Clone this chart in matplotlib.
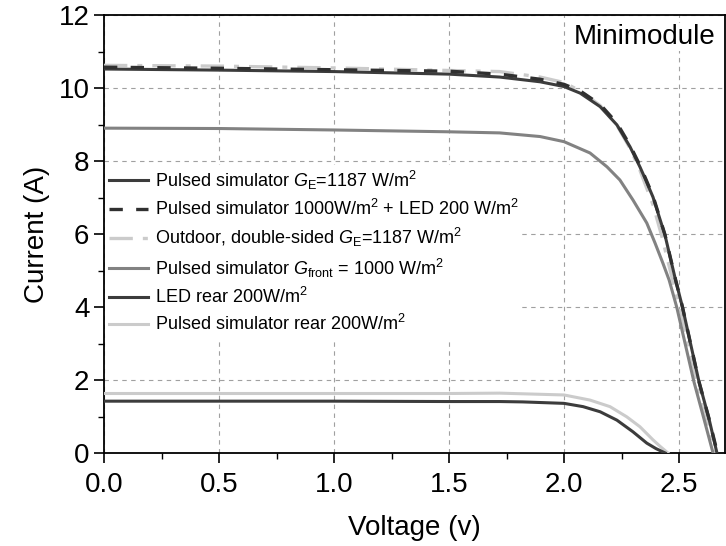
import numpy as np
import matplotlib
matplotlib.use("Agg")
import matplotlib.pyplot as plt
from matplotlib.ticker import MultipleLocator, FormatStrFormatter

plt.rcParams["font.family"] = ["Liberation Sans", "DejaVu Sans"]
plt.rcParams["mathtext.fontset"] = "custom"
plt.rcParams["mathtext.rm"] = "Liberation Sans"
plt.rcParams["mathtext.it"] = "Liberation Sans:italic"

# ---- data (V in volts, I in amps) ----
v_ge = [0, 0.5, 1.0, 1.5, 1.72, 1.896, 2.0, 2.07, 2.157, 2.23, 2.287, 2.33, 2.352, 2.387, 2.439, 2.485, 2.515, 2.587, 2.63, 2.665]
i_ge = [10.52, 10.49, 10.45, 10.38, 10.30, 10.17, 10.04, 9.86, 9.49, 8.99, 8.39, 7.84, 7.53, 7.01, 5.97, 4.74, 4.00, 1.95, 0.95, 0.0]

v_led = [0, 0.5, 1.0, 1.5, 1.72, 1.896, 2.0, 2.07, 2.157, 2.23, 2.287, 2.33, 2.352, 2.387, 2.439, 2.485, 2.515, 2.587, 2.63, 2.667]
i_led = [10.57, 10.54, 10.50, 10.46, 10.38, 10.24, 10.10, 9.92, 9.55, 9.04, 8.43, 7.88, 7.56, 7.04, 5.98, 4.75, 4.00, 1.95, 0.95, 0.0]

v_out = [0, 0.5, 1.0, 1.5, 1.72, 1.896, 2.0, 2.07, 2.157, 2.23, 2.287, 2.33, 2.387, 2.424, 2.472, 2.505, 2.58, 2.625, 2.658]
i_out = [10.62, 10.60, 10.55, 10.48, 10.45, 10.30, 10.15, 9.92, 9.52, 8.98, 8.35, 7.75, 6.80, 5.97, 4.74, 3.95, 1.90, 0.80, 0.0]

v_front = [0, 0.5, 1.0, 1.5, 1.72, 1.896, 2.0, 2.113, 2.187, 2.243, 2.30, 2.36, 2.396, 2.43, 2.457, 2.49, 2.565, 2.61, 2.648]
i_front = [8.90, 8.89, 8.85, 8.80, 8.77, 8.67, 8.53, 8.22, 7.84, 7.48, 6.93, 6.30, 5.75, 5.20, 4.74, 4.00, 1.95, 0.90, 0.0]

v_ledrear = [0, 0.5, 1.0, 1.5, 1.72, 1.82, 2.0, 2.083, 2.157, 2.23, 2.30, 2.36, 2.40, 2.44]
i_ledrear = [1.42, 1.42, 1.42, 1.41, 1.41, 1.40, 1.36, 1.27, 1.13, 0.90, 0.58, 0.27, 0.12, 0.0]

v_rear = [0, 0.5, 1.0, 1.5, 1.72, 2.0, 2.113, 2.2, 2.273, 2.33, 2.387, 2.42, 2.452]
i_rear = [1.63, 1.63, 1.63, 1.63, 1.64, 1.59, 1.45, 1.27, 0.99, 0.72, 0.36, 0.17, 0.0]

DARK = "#3c3c3c"
MID = "#828282"
LIGHT = "#cbcbcb"

fig = plt.figure(figsize=(7.26, 5.46), dpi=100)
ax = fig.add_axes([104 / 726, 93 / 546, 621 / 726, 438 / 546])

ax.plot(v_out, i_out, color=LIGHT, lw=2.4, dashes=(7, 3, 1.5, 3),
        label=r"Outdoor, double-sided $G_\mathrm{E}$=1187 W/m$^2$", zorder=3)
ax.plot(v_ge, i_ge, color=DARK, lw=2.2,
        label=r"Pulsed simulator $G_\mathrm{E}$=1187 W/m$^2$", zorder=4)
ax.plot(v_led, i_led, color="#303030", lw=2.4, dashes=(4, 4),
        label=r"Pulsed simulator 1000W/m$^2$ + LED 200 W/m$^2$", zorder=5)
ax.plot(v_front, i_front, color=MID, lw=2.2,
        label=r"Pulsed simulator $G_\mathrm{front}$ = 1000 W/m$^2$", zorder=4)
ax.plot(v_ledrear, i_ledrear, color=DARK, lw=2.2,
        label=r"LED rear 200W/m$^2$", zorder=4)
ax.plot(v_rear, i_rear, color=LIGHT, lw=2.2,
        label=r"Pulsed simulator rear 200W/m$^2$", zorder=3)

ax.set_xlim(0, 2.7)
ax.set_ylim(0, 12)
ax.xaxis.set_major_locator(MultipleLocator(0.5))
ax.xaxis.set_minor_locator(MultipleLocator(0.25))
ax.yaxis.set_major_locator(MultipleLocator(2))
ax.yaxis.set_minor_locator(MultipleLocator(1))
ax.xaxis.set_major_formatter(FormatStrFormatter("%.1f"))
ax.tick_params(which="major", direction="out", length=7, width=1.2, labelsize=20)
ax.tick_params(axis="x", which="major", pad=7)
ax.tick_params(which="minor", direction="out", length=4, width=1.0)
ax.grid(True, which="major", color="#a0a0a0", lw=0.8, dashes=(4, 4))
ax.set_axisbelow(True)
for s in ax.spines.values():
    s.set_linewidth(1.3)

ax.set_xlabel("Voltage (v)", fontsize=20, labelpad=12)
ax.set_ylabel("Current (A)", fontsize=20, labelpad=6)

ax.text(0.985, 0.95, "Minimodule", transform=ax.transAxes, ha="right", va="center",
        fontsize=20, bbox=dict(facecolor="white", edgecolor="none", pad=1))

h, l = ax.get_legend_handles_labels()
order = [1, 2, 0, 3, 4, 5]
leg = ax.legend([h[k] for k in order], [l[k] for k in order], loc="upper left",
                bbox_to_anchor=(0.0, 0.66), fontsize=13, frameon=True,
                facecolor="white", edgecolor="none", framealpha=1,
                handlelength=2.2, handletextpad=0.35, labelspacing=0.4,
                borderpad=0.2, borderaxespad=0.05)

fig.savefig("out.png", dpi=100)
